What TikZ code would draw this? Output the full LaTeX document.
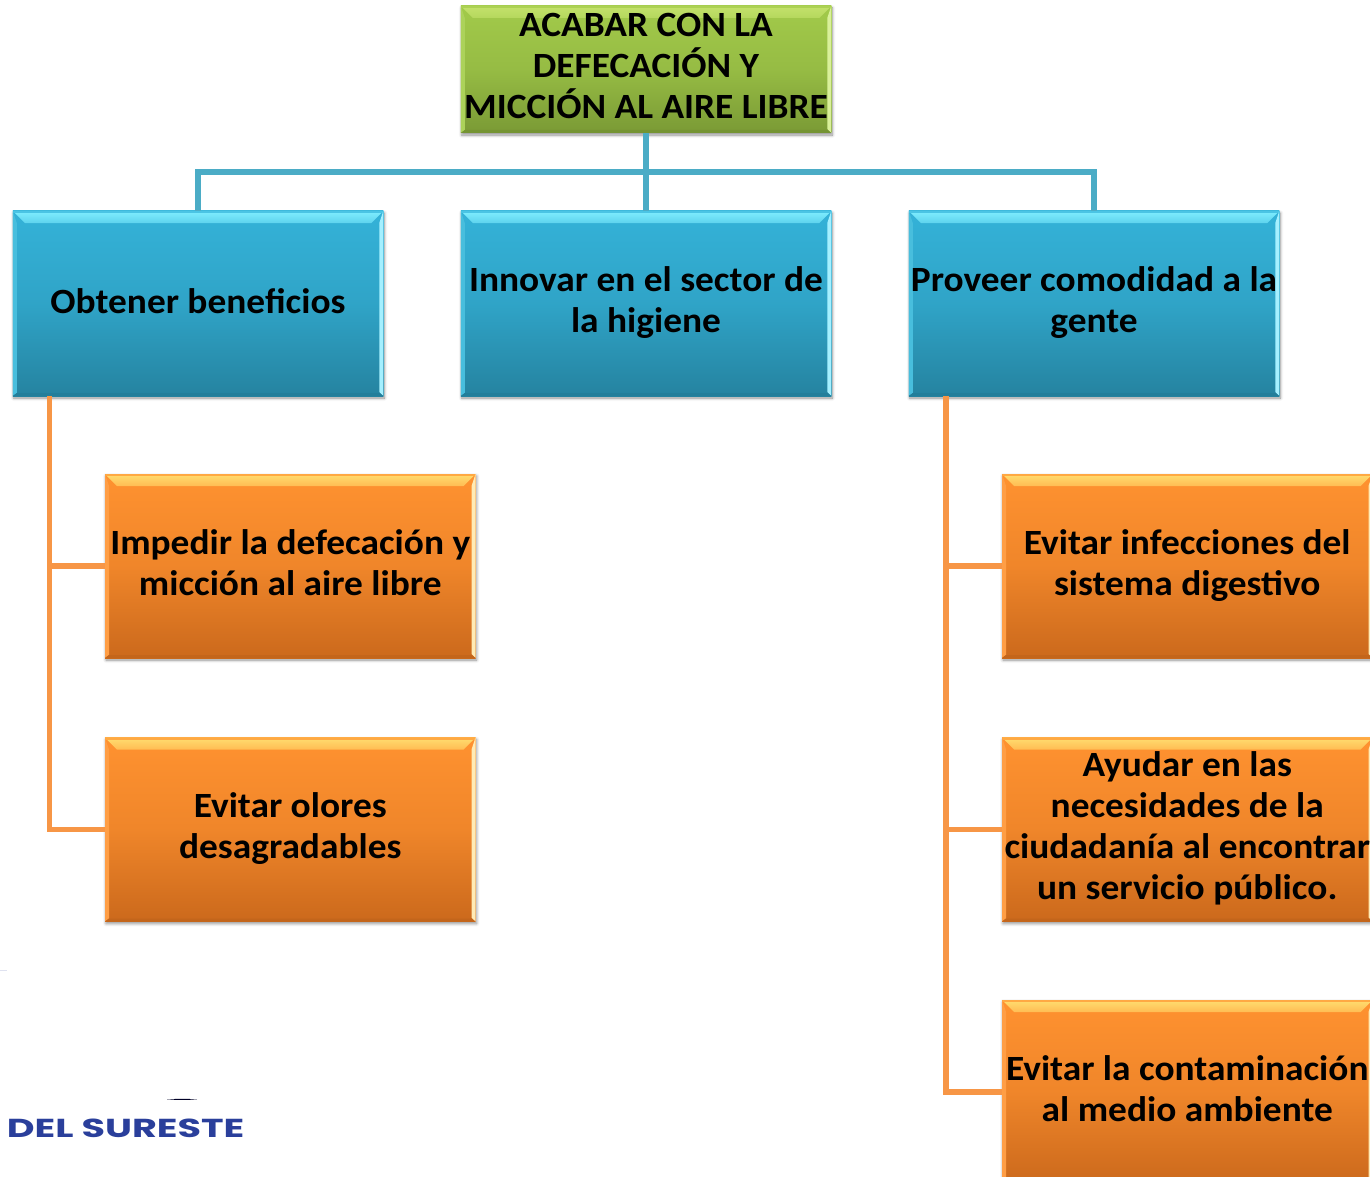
\documentclass[tikz,border=0pt]{standalone}
\usepackage{fontspec}
\setmainfont[FakeStretch=1.053]{Carlito}
\newfontfamily\logofont{Poppins}
\usetikzlibrary{shadows.blur,calc}
\definecolor{conblue}{HTML}{4BACC6}
\definecolor{conorange}{HTML}{F79646}
\definecolor{logoblue}{HTML}{2A3F9B}
\definecolor{gT}{HTML}{A2CA4A}\definecolor{gB}{HTML}{7A9A35}\definecolor{gH}{HTML}{C4E26C}\definecolor{gR}{HTML}{D9F09A}\definecolor{gL}{HTML}{ACD25A}
\definecolor{bT}{HTML}{34B2D8}\definecolor{bB}{HTML}{2583A0}\definecolor{bH}{HTML}{80EEFF}\definecolor{bR}{HTML}{A5F0FF}\definecolor{bL}{HTML}{48BEDD}
\definecolor{oT}{HTML}{FF9230}\definecolor{oB}{HTML}{CB691C}\definecolor{oH}{HTML}{FFDE70}\definecolor{oR}{HTML}{FFEBB5}\definecolor{oL}{HTML}{FF9E45}
\tikzset{
  x=1pt,y=-1pt,
  bevelled/.style n args={6}{
    minimum width=370.5pt,minimum height=#1,inner sep=0pt,align=center,
    font=\fontsize{35.5}{41}\selectfont\bfseries,text=black,
    execute at begin node={\rule[-7.5pt]{0pt}{40pt}},
    execute at end node={\rule[-7.5pt]{0pt}{40pt}},
    top color=#2,bottom color=#3,middle color=#2!70!#3,
    blur shadow={shadow xshift=1pt,shadow yshift=-2pt,shadow blur radius=3pt,shadow blur steps=6,shadow opacity=45},
    path picture={
      \coordinate (pnw) at (path picture bounding box.north west);
      \coordinate (pne) at (path picture bounding box.north east);
      \coordinate (psw) at (path picture bounding box.south west);
      \coordinate (pse) at (path picture bounding box.south east);
      \shade[top color=#4,bottom color=#4!55!#2] (pnw) -- (pne) -- ($(pne)+(-12,12)$) -- ($(pnw)+(12,12)$) -- cycle;
      \fill[#2!70!#4] (pnw) rectangle ($(pne)+(0,2)$);
      \fill[#5] (pne) -- (pse) -- ($(pse)+(-4,-4)$) -- ($(pne)+(-4,12)$) -- cycle;
      \fill[#6] (pnw) -- (psw) -- ($(psw)+(4,-3)$) -- ($(pnw)+(4,12)$) -- cycle;
      \fill[#3!96!black] (psw) -- (pse) -- ($(pse)+(-4,-3)$) -- ($(psw)+(4,-3)$) -- cycle;
    }},
  greenbox/.style={bevelled={127pt}{gT}{gB}{gH}{gR}{gL}},
  bluebox/.style={bevelled={185pt}{bT}{bB}{bH}{bR}{bL}},
  orangebox/.style={bevelled={184pt}{oT}{oB}{oH}{oR}{oL}},
  bluecon/.style={draw=conblue,line width=6pt},
  orangecon/.style={draw=conorange,line width=5.5pt},
}
\begin{document}
\begin{tikzpicture}
\useasboundingbox (0,0) rectangle (1370,1177);
\clip (0,0) rectangle (1370,1177);
\node[greenbox,execute at begin node={\rule{0pt}{43pt}}] (top) at (646,69.5) {ACABAR CON LA\\DEFECACIÓN Y\\MICCIÓN AL AIRE LIBRE};
\node[bluebox,execute at end node={\rule[-13.5pt]{0pt}{1pt}}] (obt) at (198,303.5) {Obtener beneficios};
\node[bluebox] (inn) at (646,303.5) {Innovar en el sector de\\la higiene};
\node[bluebox] (pro) at (1094,303.5) {Proveer comodidad a la\\gente};
\node[orangebox] (imp) at (290.25,566) {Impedir la defecación y\\micción al aire libre};
\node[orangebox] (olo) at (290.25,829.5) {Evitar olores\\desagradables};
\node[orangebox] (inf) at (1187.25,566) {Evitar infecciones del\\sistema digestivo};
\node[orangebox] (ayu) at (1187.25,829.5) {Ayudar en las\\necesidades de la\\ciudadanía al encontrar\\un servicio público.};
\node[orangebox] (con) at (1187.25,1092) {Evitar la contaminación\\al medio ambiente};
\coordinate (bus) at ($(top.south)+(0,38.5)$);
\coordinate (ol) at ($(obt.south west)+(37,0)$);
\coordinate (pl) at ($(pro.south west)+(37.5,0)$);
\draw[bluecon] (top.south) -- (inn.north);
\draw[bluecon] (obt.north) |- (bus) -| (pro.north);
\draw[orangecon] (ol) |- (imp.west);
\draw[orangecon] (ol) |- (olo.west);
\draw[orangecon] (pl) |- (inf.west);
\draw[orangecon] (pl) |- (ayu.west);
\draw[orangecon] (pl) |- (con.west);
\node[anchor=west,inner sep=0pt,text=logoblue,font=\logofont\fontsize{26}{26}\selectfont\bfseries,xscale=1.47] (logo) at (6.5,1128) {DEL SURESTE};
\fill[black!85!blue] (167,1099.5) .. controls (180,1098.5) and (185,1098.5) .. (197,1099.5) .. controls (185,1100) and (180,1100) .. (167,1099.5) -- cycle;
\fill[logoblue!15] (0,970) rectangle (7,971);
\end{tikzpicture}
\end{document}
